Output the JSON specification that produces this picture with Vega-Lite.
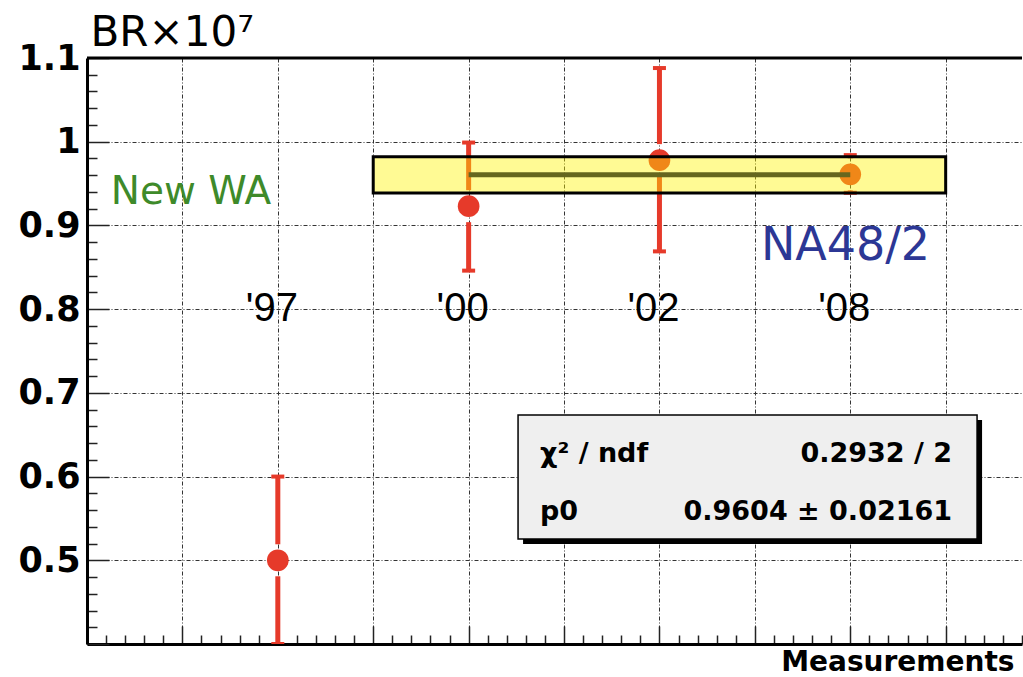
{
  "$schema": "https://vega.github.io/schema/vega-lite/v6.json",
  "width": 935,
  "height": 586,
  "autosize": "none",
  "padding": {"left": 87, "top": 58, "right": 1, "bottom": 33},
  "background": "white",
  "config": {"view": {"stroke": null}},
  "datasets": {
    "pts": [
      {"label": "'97", "x": 2, "value": 0.5, "lo": 0.4, "hi": 0.6},
      {"label": "'00", "x": 4, "value": 0.923, "lo": 0.846, "hi": 0.999},
      {"label": "'02", "x": 6, "value": 0.978, "lo": 0.869, "hi": 1.088},
      {"label": "'08", "x": 8, "value": 0.961, "lo": 0.939, "hi": 0.984}
    ],
    "one": [{"k": 1}]
  },
  "layer": [
    {
      "data": {"name": "pts"},
      "mark": {"type": "rule", "color": "#e63a2a", "strokeWidth": 5, "y2Offset": -16},
      "encoding": {
        "x": {
          "field": "x", "type": "quantitative",
          "scale": {"domain": [0, 9.8], "nice": false, "zero": false},
          "axis": {
            "values": [0,0.2,0.4,0.6,0.8,1,1.2,1.4,1.6,1.8,2,2.2,2.4,2.6,2.8,3,3.2,3.4,3.6,3.8,4,4.2,4.4,4.6,4.8,5,5.2,5.4,5.6,5.8,6,6.2,6.4,6.6,6.8,7,7.2,7.4,7.6,7.8,8,8.2,8.4,8.6,8.8,9,9.2,9.4,9.6,9.8],
            "tickCount": 500,
            "labels": false,
            "domain": true, "domainColor": "black", "domainWidth": 3,
            "ticks": true, "tickColor": "#222", "tickWidth": 1.5,
            "tickSize": {"condition": {"test": "abs(datum.value - round(datum.value)) < 0.001", "value": -18}, "value": -9},
            "grid": true, "gridColor": "#333", "gridWidth": 1, "gridDash": [4, 2, 1, 2],
            "gridOpacity": {"condition": {"test": "abs(datum.value - round(datum.value)) < 0.001 && datum.value > 0.5", "value": 1}, "value": 0},
            "title": "Measurements",
            "titleFont": "DejaVu Sans", "titleFontWeight": "bold", "titleFontSize": 28, "titleColor": "black",
            "titleAnchor": "end", "titleAlign": "right", "titleBaseline": "alphabetic",
            "titleX": 927, "titleY": 26
          }
        },
        "y": {
          "field": "hi", "type": "quantitative",
          "scale": {"domain": [0.4, 1.1], "nice": false, "zero": false},
          "axis": {
            "values": [0.4,0.42,0.44,0.46,0.48,0.5,0.52,0.54,0.56,0.58,0.6,0.62,0.64,0.66,0.68,0.7,0.72,0.74,0.76,0.78,0.8,0.82,0.84,0.86,0.88,0.9,0.92,0.94,0.96,0.98,1,1.02,1.04,1.06,1.08,1.1],
            "tickCount": 500,
            "labelOverlap": false,
            "labelExpr": "(abs(datum.value*10 - round(datum.value*10)) < 0.001 && datum.value > 0.45) ? ('' + datum.value) : ''",
            "labelFont": "DejaVu Sans", "labelFontWeight": "bold", "labelFontSize": 35, "labelColor": "black",
            "labelPadding": 29,
            "domain": true, "domainColor": "black", "domainWidth": 3,
            "ticks": true, "tickColor": "#222", "tickWidth": 1.5,
            "tickSize": {"condition": {"test": "abs(datum.value*10 - round(datum.value*10)) < 0.001", "value": -22}, "value": -10},
            "grid": true, "gridColor": "#333", "gridWidth": 1, "gridDash": [4, 2, 1, 2],
            "gridOpacity": {"condition": {"test": "abs(datum.value*10 - round(datum.value*10)) < 0.001 && datum.value > 0.45 && datum.value < 1.05", "value": 1}, "value": 0},
            "title": "BR×10⁷",
            "titleFont": "DejaVu Sans", "titleFontWeight": "normal", "titleFontSize": 42, "titleColor": "black",
            "titleAngle": 0, "titleAlign": "left", "titleBaseline": "alphabetic",
            "titleX": 3, "titleY": -13
          }
        },
        "y2": {"field": "value"}
      }
    },
    {
      "data": {"name": "pts"},
      "mark": {"type": "rule", "color": "#e63a2a", "strokeWidth": 5, "y2Offset": 16, "clip": true},
      "encoding": {
        "x": {"field": "x", "type": "quantitative"},
        "y": {"field": "lo", "type": "quantitative"},
        "y2": {"field": "value"}
      }
    },
    {
      "data": {"name": "pts"},
      "mark": {"type": "tick", "orient": "horizontal", "color": "#e63a2a", "size": 13, "thickness": 4, "opacity": 1, "clip": true},
      "encoding": {
        "x": {"field": "x", "type": "quantitative"},
        "y": {"field": "hi", "type": "quantitative"}
      }
    },
    {
      "data": {"name": "pts"},
      "mark": {"type": "tick", "orient": "horizontal", "color": "#e63a2a", "size": 13, "thickness": 4, "opacity": 1, "clip": true},
      "encoding": {
        "x": {"field": "x", "type": "quantitative"},
        "y": {"field": "lo", "type": "quantitative"}
      }
    },
    {
      "data": {"name": "pts"},
      "mark": {"type": "circle", "color": "#e63a2a", "size": 470, "opacity": 1},
      "encoding": {
        "x": {"field": "x", "type": "quantitative"},
        "y": {"field": "value", "type": "quantitative"}
      }
    },
    {
      "data": {"name": "one"},
      "mark": {"type": "rect", "fill": "#fff200", "fillOpacity": 0.42, "stroke": "black", "strokeWidth": 3},
      "encoding": {
        "x": {"datum": 3}, "x2": {"datum": 9},
        "y": {"datum": 0.9388}, "y2": {"datum": 0.982}
      }
    },
    {
      "data": {"name": "one"},
      "mark": {"type": "rule", "color": "#66661e", "strokeWidth": 5},
      "encoding": {
        "x": {"datum": 4}, "x2": {"datum": 8},
        "y": {"datum": 0.9604}
      }
    },
    {
      "data": {"name": "one"},
      "mark": {"type": "rule", "color": "black", "strokeWidth": 3},
      "encoding": {"y": {"datum": 1.1}}
    },
    {
      "data": {"name": "pts"},
      "mark": {"type": "text", "font": "Liberation Sans", "fontSize": 40, "color": "black", "align": "center", "baseline": "middle", "dx": -6},
      "encoding": {
        "x": {"field": "x", "type": "quantitative"},
        "y": {"datum": 0.8},
        "text": {"field": "label"}
      }
    },
    {
      "data": {"name": "one"},
      "mark": {"type": "text", "font": "DejaVu Sans", "fontSize": 39, "color": "#3e8a2a", "align": "center", "baseline": "middle", "text": "New WA"},
      "encoding": {"x": {"datum": 1.09}, "y": {"datum": 0.94}}
    },
    {
      "data": {"name": "one"},
      "mark": {"type": "text", "font": "DejaVu Sans", "fontSize": 46, "color": "#2c3795", "align": "center", "baseline": "middle", "text": "NA48/2"},
      "encoding": {"x": {"datum": 7.95}, "y": {"datum": 0.875}}
    },
    {
      "data": {"name": "one"},
      "mark": {"type": "rect", "fill": "black", "xOffset": 5, "x2Offset": 5, "yOffset": 5, "y2Offset": 5},
      "encoding": {
        "x": {"datum": 4.518}, "x2": {"datum": 9.329},
        "y": {"datum": 0.6735}, "y2": {"datum": 0.5254}
      }
    },
    {
      "data": {"name": "one"},
      "mark": {"type": "rect", "fill": "#efefef", "stroke": "black", "strokeWidth": 1.5},
      "encoding": {
        "x": {"datum": 4.518}, "x2": {"datum": 9.329},
        "y": {"datum": 0.6735}, "y2": {"datum": 0.5254}
      }
    },
    {
      "data": {"name": "one"},
      "mark": {"type": "text", "font": "DejaVu Sans", "fontWeight": "bold", "fontSize": 27, "color": "black", "align": "left", "baseline": "alphabetic", "text": "χ² / ndf"},
      "encoding": {"x": {"datum": 4.748}, "y": {"datum": 0.617}}
    },
    {
      "data": {"name": "one"},
      "mark": {"type": "text", "font": "DejaVu Sans", "fontWeight": "bold", "fontSize": 27, "color": "black", "align": "right", "baseline": "alphabetic", "text": "0.2932 / 2"},
      "encoding": {"x": {"datum": 9.067}, "y": {"datum": 0.617}}
    },
    {
      "data": {"name": "one"},
      "mark": {"type": "text", "font": "DejaVu Sans", "fontWeight": "bold", "fontSize": 27, "color": "black", "align": "left", "baseline": "alphabetic", "text": "p0"},
      "encoding": {"x": {"datum": 4.748}, "y": {"datum": 0.548}}
    },
    {
      "data": {"name": "one"},
      "mark": {"type": "text", "font": "DejaVu Sans", "fontWeight": "bold", "fontSize": 27, "color": "black", "align": "right", "baseline": "alphabetic", "text": "0.9604 ± 0.02161"},
      "encoding": {"x": {"datum": 9.067}, "y": {"datum": 0.548}}
    }
  ]
}
